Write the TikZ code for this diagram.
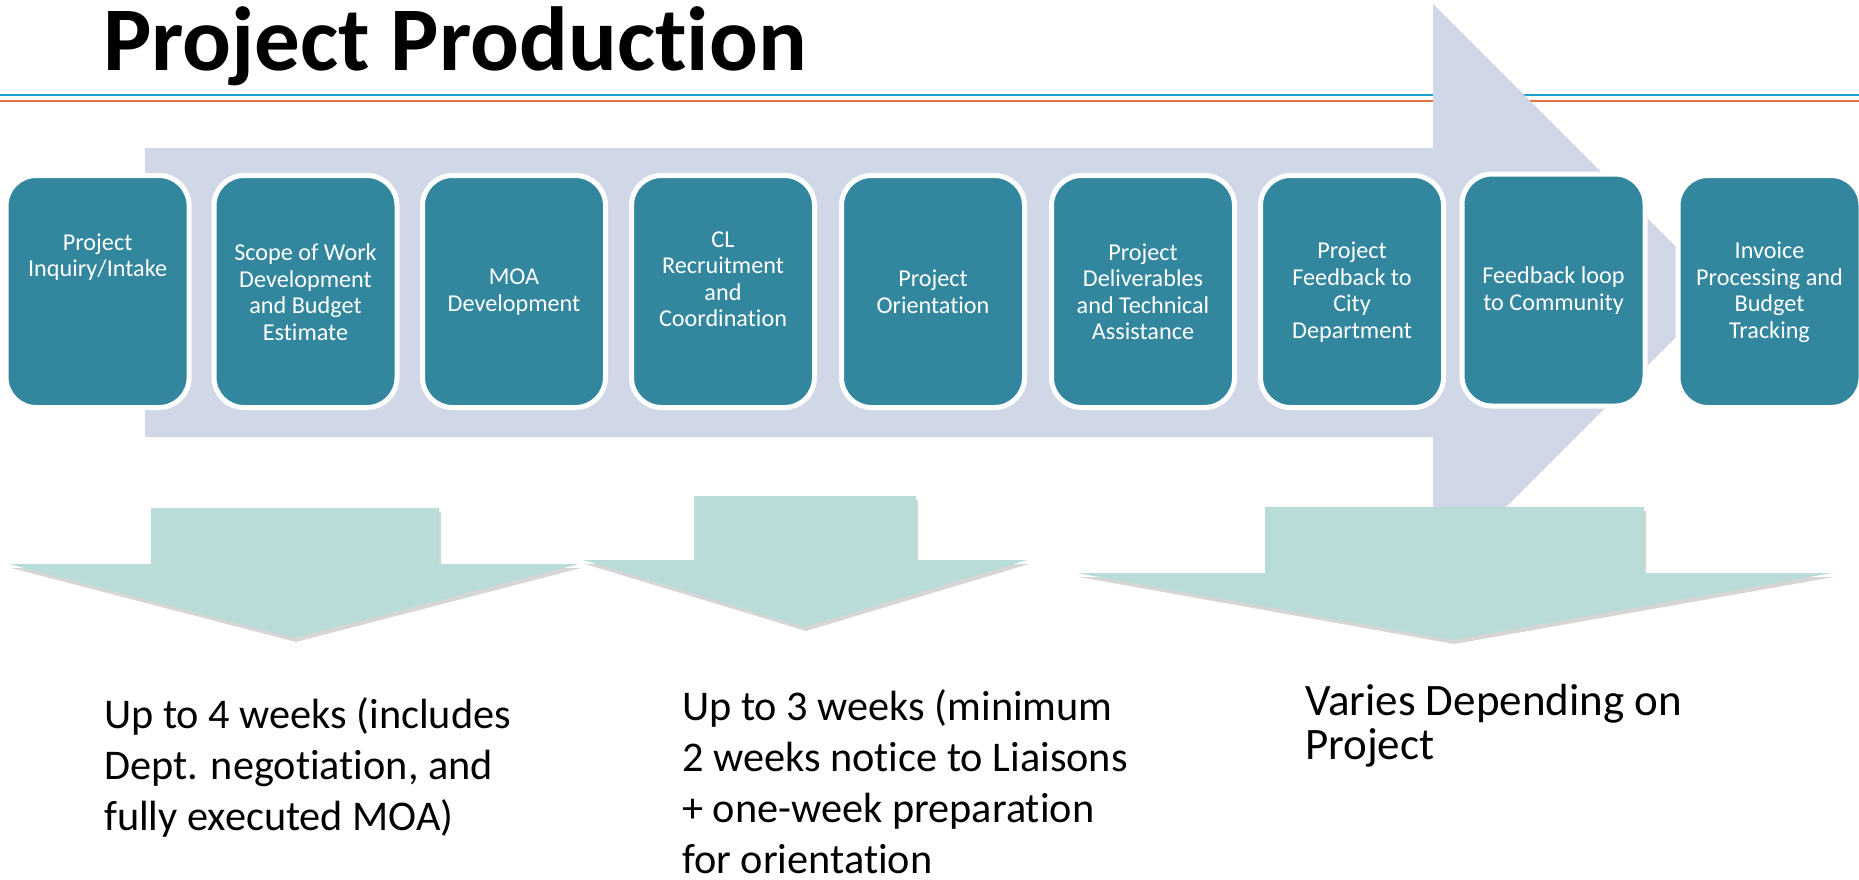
\documentclass[tikz,border=0pt]{standalone}
\usepackage{fontspec}
\setmainfont[Ligatures={NoCommon}]{Carlito}
\definecolor{boxteal}{RGB}{50,134,158}
\definecolor{lav}{RGB}{208,216,232}
\definecolor{mint}{RGB}{186,220,216}
\definecolor{lineblue}{RGB}{30,160,205}
\definecolor{lineorange}{RGB}{232,112,62}
\begin{document}
\begin{tikzpicture}[x=1pt,y=-1pt,
  box/.style={draw=white, line width=5pt, fill=boxteal, rounded corners=30pt,
    minimum width=183pt, minimum height=232pt, inner sep=0pt},
  boxtext/.style={text=white, align=center, inner sep=0pt,
    font=\fontsize{24.2}{26.5}\selectfont},
  note/.style={align=left, anchor=west, inner sep=0pt,
    font=\fontsize{42.3}{51}\selectfont},
  mintarrow/.style={fill=mint},
  mintshadow/.style={fill=black, opacity=0.16}]
\useasboundingbox (0,0) rectangle (1859,879);
% title
\node[anchor=base west, inner sep=0pt, font=\fontsize{91}{91}\selectfont\bfseries] (title) at (103,70) {Project Production};
% rules
\draw[lineblue, line width=2pt] (0,95) -- (1859,95);
\draw[lineorange, line width=2.5pt] (0,101) -- (1859,101);
% big arrow
\fill[lav] (145,148) -- (1433,148) -- (1433,4) -- (1721,292) -- (1433,580) -- (1433,437) -- (145,437) -- cycle;
% mint arrows with soft shadow
\begin{scope}[shift={(2,4)}]
\fill[mintshadow] (151,508) -- (439,508) -- (439,564) -- (579,564) -- (294,638) -- (9,564) -- (151,564) -- cycle;
\fill[mintshadow] (694,496) -- (916,496) -- (916,560) -- (1027,560) -- (804,627) -- (583,560) -- (694,560) -- cycle;
\fill[mintshadow] (1265,507) -- (1644,507) -- (1644,573) -- (1832,573) -- (1452,640) -- (1077,573) -- (1265,573) -- cycle;
\end{scope}
\fill[mintarrow] (151,508) -- (439,508) -- (439,564) -- (579,564) -- (294,638) -- (9,564) -- (151,564) -- cycle;
\fill[mintarrow] (694,496) -- (916,496) -- (916,560) -- (1027,560) -- (804,627) -- (583,560) -- (694,560) -- cycle;
\fill[mintarrow] (1265,507) -- (1644,507) -- (1644,573) -- (1832,573) -- (1452,640) -- (1077,573) -- (1265,573) -- cycle;
% boxes
\node[box] (b1) at (97.6,291.5) {};
\node[box] (b2) at (305.5,291.5) {};
\node[box] (b3) at (514,291.5) {};
\node[box] (b4) at (723,291.5) {};
\node[box] (b5) at (933,291.5) {};
\node[box] (b6) at (1143,291.5) {};
\node[box] (b7) at (1352,291.5) {};
\node[box] (b8) at (1553.5,290) {};
\node[box] (b9) at (1769.5,291.5) {};
% box texts
\node[boxtext] (t1) at (97.6,257) {Project\\Inquiry/Intake};
\node[boxtext] (t2) at (305.5,292) {Scope of Work\\Development\\and Budget\\Estimate};
\node[boxtext] (t3) at (514,292) {MOA\\Development};
\node[boxtext] (t4) at (723,279) {CL\\Recruitment\\and\\Coordination};
\node[boxtext] (t5) at (933,292) {Project\\Orientation};
\node[boxtext] (t6) at (1143,292) {Project\\Deliverables\\and Technical\\Assistance};
\node[boxtext] (t7) at (1352,292) {Project\\Feedback to\\City\\Department};
\node[boxtext] (t8) at (1553.5,290.5) {Feedback loop\\to Community};
\node[boxtext] (t9) at (1769.5,292) {Invoice\\Processing and\\Budget\\Tracking};
% notes
\node[note] (n1) at (104,767) {Up to 4 weeks (includes\\Dept. negotiation, and\\fully executed MOA)};
\node[note] (n2) at (682,782) {Up to 3 weeks (minimum\\2 weeks notice to Liaisons\\+ one-week preparation\\for orientation};
\node[note, font=\fontsize{45}{44}\selectfont] (n3) at (1305,726) {Varies Depending on\\Project};
\end{tikzpicture}
\end{document}
